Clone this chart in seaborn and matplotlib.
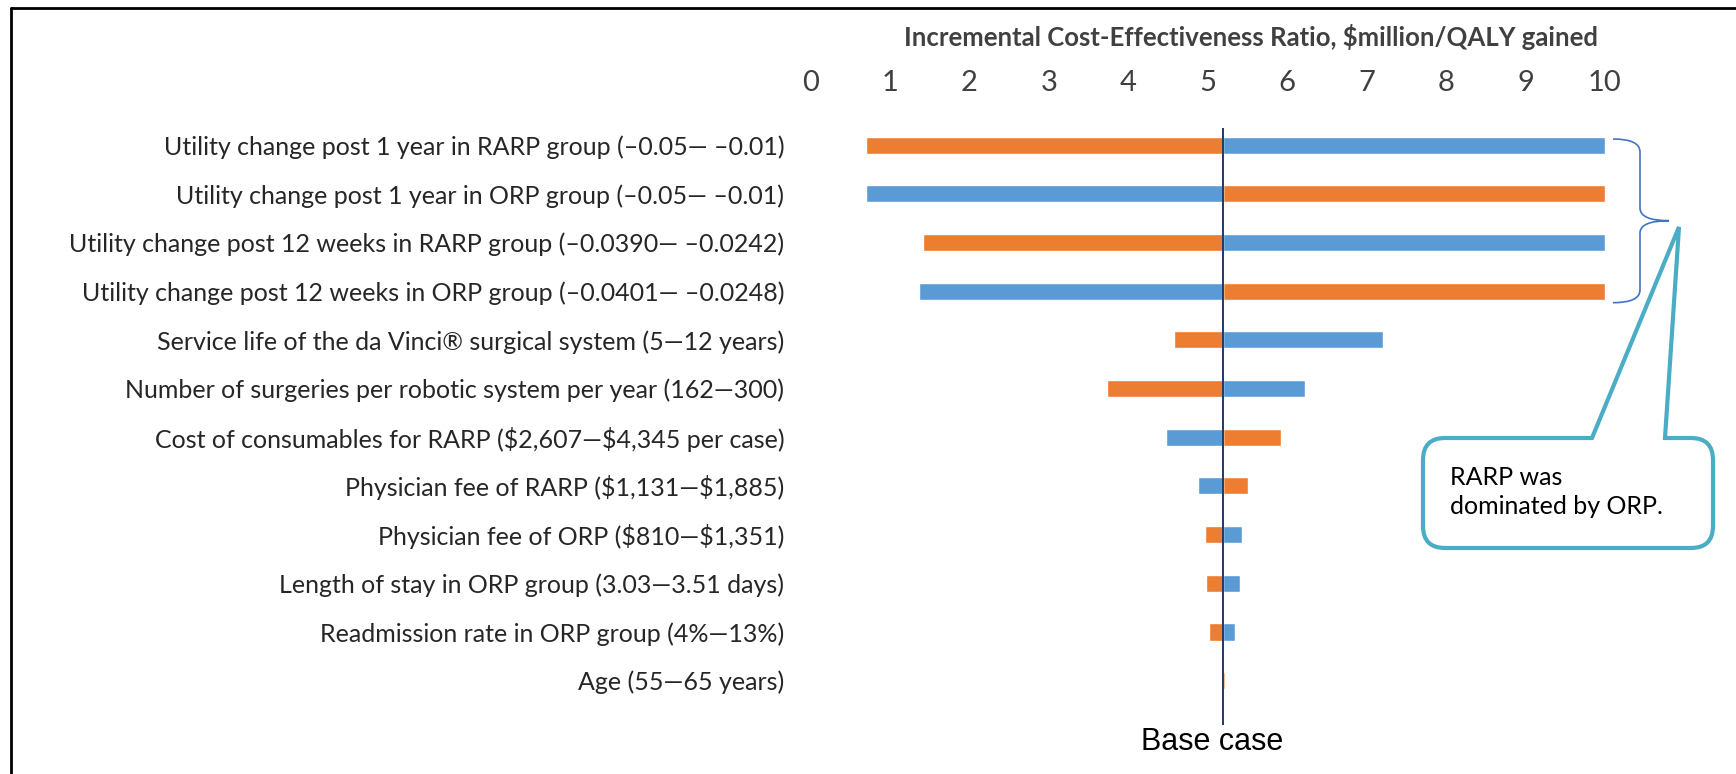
import numpy as np
import pandas as pd
import seaborn as sb
import matplotlib.pyplot as plt
from matplotlib.path import Path
from matplotlib.patches import PathPatch
from matplotlib.lines import Line2D

# tornado diagram data (ICER, $million/QALY)
parameters = [
    "Utility change post 1 year in RARP group (\u20130.05\u2014 \u20130.01)",
    "Utility change post 1 year in ORP group (\u20130.05\u2014 \u20130.01)",
    "Utility change post 12 weeks in RARP group (\u20130.0390\u2014 \u20130.0242)",
    "Utility change post 12 weeks in ORP group (\u20130.0401\u2014 \u20130.0248)",
    "Service life of the da Vinci\u00ae surgical system (5\u201412 years)",
    "Number of surgeries per robotic system per year (162\u2014300)",
    "Cost of consumables for RARP (\\$2,607\u2014\\$4,345 per case)",
    "Physician fee of RARP (\\$1,131\u2014\\$1,885)",
    "Physician fee of ORP (\\$810\u2014\\$1,351)",
    "Length of stay in ORP group (3.03\u20143.51 days)",
    "Readmission rate in ORP group (4%\u201413%)",
    "Age (55\u201465 years)",
]
icer_orange = [0.69, 10.0, 1.42, 10.0, 4.58, 3.73, 5.92, 5.51, 4.97, 4.98, 5.01, 5.21]
icer_blue = [10.0, 0.69, 10.0, 1.36, 7.20, 6.22, 4.47, 4.88, 5.43, 5.40, 5.34, 5.18]
base_icer = 5.19
tick_values = list(range(0, 11))

orange = "#ED7D31"
blue = "#5B9BD5"
teal = "#4BACC6"

sb.set_style("white")
plt.rcParams["font.family"] = ["Lato", "DejaVu Sans"]

df = pd.DataFrame({
    "parameter": parameters * 2,
    "end": ["orange"] * len(parameters) + ["blue"] * len(parameters),
    "dev": [v - base_icer for v in icer_orange] + [v - base_icer for v in icer_blue],
})

W, H = 1736, 774
fig = plt.figure(figsize=(W / 100, H / 100), dpi=100)
ax = fig.add_axes([810.7 / W, 1 - 725 / H, (1605 - 810.7) / W, (725 - 128) / H])

sb.barplot(data=df, x="dev", y="parameter", hue="end", dodge=False,
           palette={"orange": orange, "blue": blue}, width=0.35,
           saturation=1, errorbar=None, legend=False, ax=ax)

ax.axvline(0, color="#1F3864", lw=1.4)
ax.set_xlim(-base_icer, 10 - base_icer)
ax.set_ylim(11.91, -0.35)
ax.set_xticks([t - base_icer for t in tick_values])
ax.set_xticklabels([str(t) for t in tick_values])
ax.xaxis.tick_top()
ax.tick_params(axis="x", length=0, pad=23, labelsize=21, labelcolor="#404040")
ax.tick_params(axis="y", length=0, pad=19, labelsize=18, labelcolor="#262626")
ax.set_xlabel("")
ax.set_ylabel("")
for s in ax.spines.values():
    s.set_visible(False)

fig.text(1251 / W, 1 - 37 / H, "Incremental Cost-Effectiveness Ratio, \\$million/QALY gained",
         ha="center", va="center", fontsize=18.5, fontweight="bold", color="#404040")
fig.text(1212 / W, 1 - 742 / H, "Base case", ha="center", va="center",
         fontsize=22, family="Liberation Sans", color="black")


def px(x, y):
    return (x / W, 1 - y / H)


# brace
bv = [px(1613, 139), px(1640, 139), px(1640, 152), px(1640, 208), px(1640, 220.7),
      px(1669, 220.7), px(1640, 220.7), px(1640, 233), px(1640, 290), px(1640, 302.7),
      px(1613, 302.7)]
bc = [Path.MOVETO, Path.CURVE3, Path.CURVE3, Path.LINETO, Path.CURVE3, Path.CURVE3,
      Path.CURVE3, Path.CURVE3, Path.LINETO, Path.CURVE3, Path.CURVE3]
fig.add_artist(PathPatch(Path(bv, bc), transform=fig.transFigure, fill=False,
                         edgecolor="#4472C4", lw=1.2))

# callout
L, R, T, B, r = 1423, 1713, 438, 548, 22
cv = [px(L + r, T), px(1592, T), px(1679, 227), px(1665, T), px(R - r, T),
      px(R, T), px(R, T + r), px(R, B - r), px(R, B), px(R - r, B), px(L + r, B),
      px(L, B), px(L, B - r), px(L, T + r), px(L, T), px(L + r, T), px(L + r, T)]
cc = [Path.MOVETO, Path.LINETO, Path.LINETO, Path.LINETO, Path.LINETO,
      Path.CURVE3, Path.CURVE3, Path.LINETO, Path.CURVE3, Path.CURVE3, Path.LINETO,
      Path.CURVE3, Path.CURVE3, Path.LINETO, Path.CURVE3, Path.CURVE3, Path.CLOSEPOLY]
fig.add_artist(PathPatch(Path(cv, cc), transform=fig.transFigure, facecolor="white",
                         edgecolor=teal, lw=3, joinstyle="miter"))
fig.text(1450 / W, 1 - 492 / H, "RARP was\ndominated by ORP.", ha="left", va="center",
         fontsize=18, color="black", linespacing=1.3)

# frame on top and left
fig.add_artist(Line2D([11 / W, 11 / W], [0, 1 - 7.5 / H], color="black", lw=2,
                      transform=fig.transFigure))
fig.add_artist(Line2D([11 / W, 1], [1 - 7.5 / H, 1 - 7.5 / H], color="black", lw=2,
                      transform=fig.transFigure))

fig.savefig("out.png", dpi=100)
